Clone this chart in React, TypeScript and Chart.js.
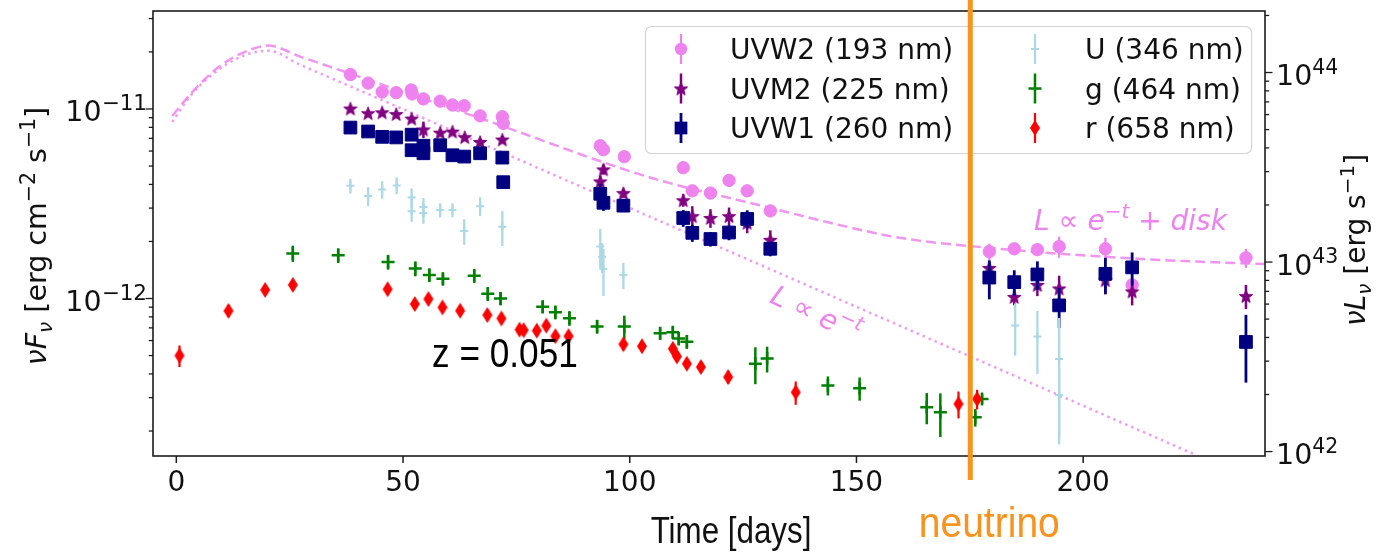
import { useEffect, useRef } from 'react';
import { Chart, registerables } from 'chart.js';

Chart.register(...registerables);

// ---------------- data (days since start, nu F_nu in erg cm^-2 s^-1) ----------------
const uvw2Days = [38.4, 42.3, 45.4, 48.5, 51.8, 52.0, 54.5, 58.2, 60.9, 63.5, 67.0, 71.9, 72.1, 93.5, 94.2, 98.8, 111.8, 113.8, 117.8, 121.9, 125.9, 131.0, 179.3, 184.8, 189.9, 194.7, 204.9, 210.8, 235.9];
const uvw2Flux = [1.52e-11, 1.37e-11, 1.23e-11, 1.22e-11, 1.26e-11, 1.20e-11, 1.13e-11, 1.10e-11, 1.05e-11, 1.04e-11, 9.2e-12, 9.1e-12, 8.4e-12, 6.4e-12, 6.1e-12, 5.6e-12, 4.9e-12, 3.7e-12, 3.6e-12, 4.2e-12, 3.7e-12, 2.9e-12, 1.77e-12, 1.83e-12, 1.81e-12, 1.88e-12, 1.83e-12, 1.18e-12, 1.64e-12];
const uvw2Err = [3e-13, 3e-13, 2.5e-13, 2.5e-13, 2.5e-13, 2.5e-13, 2.3e-13, 2.2e-13, 2.1e-13, 2.1e-13, 2e-13, 2e-13, 2.5e-13, 3e-13, 3e-13, 2.5e-13, 2.5e-13, 2e-13, 2e-13, 2.5e-13, 2e-13, 2e-13, 1.8e-13, 1.2e-13, 1.1e-13, 2.4e-13, 2.6e-13, 1.0e-13, 1.9e-13];

const uvm2Days = [38.4, 42.3, 45.4, 48.5, 51.9, 54.5, 58.2, 60.9, 63.6, 67.0, 71.9, 93.5, 94.2, 98.6, 111.8, 113.8, 117.8, 121.9, 125.9, 131.0, 179.3, 184.8, 189.9, 194.7, 204.9, 210.8, 235.9];
const uvm2Flux = [1.006e-11, 9.5e-12, 9.6e-12, 9.4e-12, 8.9e-12, 7.8e-12, 7.5e-12, 7.6e-12, 7.1e-12, 6.7e-12, 6.9e-12, 4.15e-12, 4.8e-12, 3.6e-12, 3.3e-12, 2.72e-12, 2.66e-12, 2.72e-12, 2.51e-12, 2.04e-12, 1.45e-12, 1.02e-12, 1.18e-12, 1.13e-12, 1.25e-12, 1.09e-12, 1.03e-12];
const uvm2Err = [3e-13, 3e-13, 3e-13, 3e-13, 3e-13, 7.8e-13, 2.5e-13, 2.5e-13, 2.5e-13, 2.5e-13, 3e-13, 3e-13, 3e-13, 2e-13, 2.5e-13, 3.5e-13, 3e-13, 3e-13, 3e-13, 2.5e-13, 1.1e-13, 1.0e-13, 1.5e-13, 1.9e-13, 2.0e-13, 1.7e-13, 1.5e-13];

const uvw1Days = [38.4, 42.3, 45.4, 48.5, 51.9, 51.9, 54.5, 54.5, 58.2, 60.9, 63.5, 67.0, 71.9, 72.1, 93.5, 94.2, 98.6, 111.8, 113.8, 117.8, 121.9, 125.9, 131.0, 179.3, 184.8, 189.9, 194.7, 204.9, 210.8, 235.9];
const uvw1Flux = [7.98e-12, 7.61e-12, 7.13e-12, 7.08e-12, 7.32e-12, 6.06e-12, 6.40e-12, 5.84e-12, 6.44e-12, 5.70e-12, 5.61e-12, 5.84e-12, 5.54e-12, 4.11e-12, 3.57e-12, 3.20e-12, 3.09e-12, 2.66e-12, 2.22e-12, 2.06e-12, 2.23e-12, 2.63e-12, 1.83e-12, 1.29e-12, 1.22e-12, 1.34e-12, 9.2e-13, 1.35e-12, 1.46e-12, 5.9e-13];
const uvw1Err = [2.2e-13, 2.2e-13, 2e-13, 2e-13, 2e-13, 2e-13, 2e-13, 3e-13, 2e-13, 2e-13, 1.8e-13, 1.8e-13, 1.8e-13, 2e-13, 4.6e-13, 3e-13, 2.3e-13, 2.7e-13, 2.3e-13, 1.8e-13, 2e-13, 2.9e-13, 1.6e-13, 3.0e-13, 1.9e-13, 2.3e-13, 2.2e-13, 2.9e-13, 2.9e-13, 2.3e-13];

const uDays = [38.4, 42.3, 45.4, 48.6, 51.9, 51.9, 54.5, 54.5, 58.2, 60.9, 63.5, 67.0, 71.9, 93.5, 93.9, 94.2, 98.6, 185.0, 189.9, 194.7, 194.7];
const uFlux = [3.93e-12, 3.47e-12, 3.76e-12, 3.95e-12, 3.41e-12, 2.89e-12, 3.04e-12, 2.83e-12, 2.93e-12, 2.93e-12, 2.27e-12, 3.07e-12, 2.39e-12, 1.88e-12, 1.66e-12, 1.43e-12, 1.33e-12, 7.2e-13, 6.3e-13, 4.8e-13, 3.1e-13];
const uErr = [3.5e-13, 4e-13, 4e-13, 4e-13, 4e-13, 3.5e-13, 3.5e-13, 3.5e-13, 2.5e-13, 2.5e-13, 3.5e-13, 3.5e-13, 5e-13, 4.5e-13, 3e-13, 4e-13, 2.1e-13, 2.2e-13, 2.3e-13, 3.1e-13, 1.2e-13];

const gDays = [25.7, 35.7, 46.7, 52.7, 55.8, 58.8, 65.7, 68.7, 71.5, 80.8, 83.6, 86.7, 92.8, 98.8, 106.7, 109.5, 110.8, 112.6, 127.7, 130.3, 143.7, 150.7, 165.5, 168.5, 176.2, 177.7];
const gFlux = [1.73e-12, 1.69e-12, 1.56e-12, 1.44e-12, 1.33e-12, 1.27e-12, 1.32e-12, 1.06e-12, 1.0e-12, 9.05e-13, 8.46e-13, 7.88e-13, 7.12e-13, 7.12e-13, 6.56e-13, 6.63e-13, 6.15e-13, 5.92e-13, 4.53e-13, 4.82e-13, 3.48e-13, 3.36e-13, 2.67e-13, 2.51e-13, 2.36e-13, 2.95e-13];
const gErr = [1.7e-13, 1.5e-13, 1.4e-13, 1.3e-13, 1.1e-13, 1.0e-13, 1.1e-13, 9e-14, 8e-14, 7e-14, 7e-14, 7e-14, 6e-14, 1.0e-13, 5e-14, 5e-14, 5e-14, 5e-14, 1.0e-13, 7.5e-14, 4e-14, 4.7e-14, 5e-14, 6.5e-14, 2.5e-14, 1.8e-14];

const rDays = [0.7, 11.5, 19.6, 25.7, 46.6, 52.6, 55.6, 58.7, 62.6, 68.6, 71.7, 75.7, 76.6, 79.5, 81.6, 83.6, 86.5, 98.6, 102.7, 109.5, 110.4, 112.6, 115.7, 121.7, 136.6, 172.5, 176.6];
const rFlux = [5.0e-13, 8.6e-13, 1.11e-12, 1.18e-12, 1.12e-12, 9.35e-13, 9.94e-13, 8.98e-13, 8.62e-13, 8.18e-13, 7.85e-13, 6.85e-13, 6.81e-13, 6.77e-13, 7.19e-13, 6.33e-13, 6.33e-13, 5.74e-13, 5.6e-13, 5.43e-13, 4.95e-13, 4.53e-13, 4.35e-13, 3.85e-13, 3.2e-13, 2.78e-13, 2.95e-13];
const rErr = [6.5e-14, 6e-14, 7e-14, 7e-14, 7e-14, 5e-14, 5e-14, 5e-14, 5e-14, 5e-14, 4.5e-14, 4e-14, 4e-14, 4e-14, 4e-14, 4e-14, 4e-14, 4e-14, 4e-14, 3e-14, 3e-14, 3e-14, 3e-14, 3e-14, 4.5e-14, 4.5e-14, 3.5e-14];

// model curves
const expDiskDays = [-0.9, 3.75, 9.7, 15.7, 20.3, 27.3, 38.4, 68.1, 104.5, 128.8, 148.6, 159.6, 179.3, 201.5, 221.4, 240.1];
const expDiskFlux = [9.18e-12, 1.247e-11, 1.69e-11, 2.03e-11, 2.16e-11, 1.89e-11, 1.535e-11, 8.75e-12, 4.35e-12, 3.10e-12, 2.37e-12, 2.09e-12, 1.85e-12, 1.68e-12, 1.58e-12, 1.52e-12];
const expDays = [-0.9, 3.1, 9.0, 14.8, 20.3, 27.3, 38.4, 82.5, 148.6, 224.3];
const expFlux = [8.53e-12, 1.172e-11, 1.59e-11, 1.91e-11, 2.03e-11, 1.712e-11, 1.316e-11, 4.575e-12, 9.35e-13, 1.515e-13];

const seriesLabels = ['UVW2 (193 nm)', 'UVM2 (225 nm)', 'UVW1 (260 nm)', 'U (346 nm)', 'g (464 nm)', 'r (658 nm)'];

const xTicks = [0, 50, 100, 150, 200];
const xTickLabels = ['0', '50', '100', '150', '200'];
const fluxMajorTicks = [1e-12, 1e-11];
const fluxTickExps = ['\u221212', '\u221211'];
const lumMajorTicks = [1e42, 1e43, 1e44];
const lumTickExps = ['42', '43', '44'];

const xMin = -5.14;
const xMax = 240.1;
const fluxMin = 1.476e-13;
const fluxMax = 3.289e-11;
const lumPerFlux = 6.42e54;
const neutrinoDay = 175.1;

// ---------------- helpers ----------------
const FONT = '"DejaVu Sans", sans-serif';
const ORANGE = '#F7931E';

function makeStar(color: string, R: number) {
  const c = document.createElement('canvas');
  const s = Math.ceil(R * 2 + 4);
  c.width = s; c.height = s;
  const ctx = c.getContext('2d')!;
  ctx.translate(s / 2, s / 2 + R * 0.1);
  ctx.beginPath();
  for (let i = 0; i < 10; i++) {
    const r = i % 2 === 0 ? R : R * 0.42;
    const a = -Math.PI / 2 + (i * Math.PI) / 5;
    const px = r * Math.cos(a), py = r * Math.sin(a);
    if (i === 0) ctx.moveTo(px, py); else ctx.lineTo(px, py);
  }
  ctx.closePath();
  ctx.fillStyle = color; ctx.strokeStyle = color; ctx.lineWidth = 1;
  ctx.fill(); ctx.stroke();
  return c;
}

function makeThinDiamond(color: string, h: number, w: number) {
  const c = document.createElement('canvas');
  c.width = Math.ceil(w + 2); c.height = Math.ceil(h + 2);
  const ctx = c.getContext('2d')!;
  const cx = c.width / 2, cy = c.height / 2;
  ctx.beginPath();
  ctx.moveTo(cx, cy - h / 2); ctx.lineTo(cx + w / 2, cy); ctx.lineTo(cx, cy + h / 2); ctx.lineTo(cx - w / 2, cy);
  ctx.closePath();
  ctx.fillStyle = color; ctx.fill();
  return c;
}

type Run = { t: string; size: number; italic?: boolean; dy?: number };

function setRunFont(ctx: CanvasRenderingContext2D, r: Run) {
  ctx.font = `${r.italic ? 'italic ' : ''}${r.size}px ${FONT}`;
}
function runsWidth(ctx: CanvasRenderingContext2D, runs: Run[]) {
  let w = 0;
  for (const r of runs) { setRunFont(ctx, r); w += ctx.measureText(r.t).width; }
  return w;
}
function drawRuns(ctx: CanvasRenderingContext2D, runs: Run[], x: number, y: number) {
  let cx = x;
  ctx.textAlign = 'left';
  ctx.textBaseline = 'alphabetic';
  for (const r of runs) {
    setRunFont(ctx, r);
    ctx.fillText(r.t, cx, y + (r.dy || 0));
    cx += ctx.measureText(r.t).width;
  }
}

function drawPow(ctx: CanvasRenderingContext2D, exp: string, x: number, baseline: number, align: 'left' | 'right', supSize: number) {
  const runs: Run[] = [{ t: '10', size: 28.5 }, { t: exp, size: supSize, dy: -11.5 }];
  const w = runsWidth(ctx, runs);
  drawRuns(ctx, runs, align === 'right' ? x - w : x, baseline);
}

function isPow10(v: number) {
  const l = Math.log10(v);
  return Math.abs(l - Math.round(l)) < 1e-6;
}
function isMinor(v: number) {
  const e = Math.floor(Math.log10(v) + 1e-9);
  const m = v / Math.pow(10, e);
  const rm = Math.round(m);
  return Math.abs(m - rm) < 1e-6 && rm >= 2 && rm <= 9;
}

// ---------------- component ----------------
export default function App() {
  const canvasRef = useRef<HTMLCanvasElement | null>(null);

  useEffect(() => {
    const canvas = canvasRef.current;
    if (!canvas) return;

    const star = makeStar('purple', 7);
    const diamond = makeThinDiamond('red', 16, 10);

    const series = [
      { label: seriesLabels[0], days: uvw2Days, flux: uvw2Flux, err: uvw2Err, color: 'violet', style: 'circle', radius: 6.2, bw: 1, errWidth: 2.2, order: 6 },
      { label: seriesLabels[1], days: uvm2Days, flux: uvm2Flux, err: uvm2Err, color: 'purple', style: star, radius: 7, bw: 1, errWidth: 2.5, order: 5 },
      { label: seriesLabels[2], days: uvw1Days, flux: uvw1Flux, err: uvw1Err, color: 'navy', style: 'rect', radius: 9, bw: 1, errWidth: 2.8, order: 4 },
      { label: seriesLabels[3], days: uDays, flux: uFlux, err: uErr, color: 'lightblue', style: 'cross', radius: 4, bw: 2, errWidth: 2.3, order: 3 },
      { label: seriesLabels[4], days: gDays, flux: gFlux, err: gErr, color: 'green', style: 'cross', radius: 6.5, bw: 2.5, errWidth: 2.5, order: 2 },
      { label: seriesLabels[5], days: rDays, flux: rFlux, err: rErr, color: 'red', style: diamond, radius: 8, bw: 1, errWidth: 2.2, order: 1 },
    ];

    const pts = (xs: number[], ys: number[]) => xs.map((x, i) => ({ x, y: ys[i] }));

    const datasets: any[] = [
      {
        type: 'line', label: 'exp+disk', data: pts(expDiskDays, expDiskFlux),
        borderColor: 'rgba(238,130,238,0.85)', borderWidth: 2.5, borderDash: [10, 5],
        pointRadius: 0, showLine: true, fill: false, cubicInterpolationMode: 'monotone', order: 10,
        xAxisID: 'x', yAxisID: 'y',
      },
      {
        type: 'line', label: 'exp', data: pts(expDays, expFlux),
        borderColor: 'rgba(238,130,238,0.8)', borderWidth: 2.5, borderDash: [2.5, 4],
        pointRadius: 0, showLine: true, fill: false, cubicInterpolationMode: 'monotone', order: 11,
        xAxisID: 'x', yAxisID: 'y',
      },
      ...series.map((s) => ({
        type: 'scatter', label: s.label, data: pts(s.days, s.flux),
        pointStyle: s.style, pointRadius: s.radius, pointHoverRadius: s.radius,
        backgroundColor: s.color, borderColor: s.color, borderWidth: s.bw,
        showLine: false, order: s.order, errors: s.err, errWidth: s.errWidth,
        xAxisID: 'x', yAxisID: 'y',
      })),
    ];

    const decor = {
      id: 'decor',
      beforeDatasetDraw(chart: any, args: any) {
        const ds = chart.data.datasets[args.index];
        if (!ds.errors) return;
        const { ctx, chartArea: a } = chart;
        const xs = chart.scales.x, ys = chart.scales.y;
        ctx.save();
        ctx.beginPath();
        ctx.rect(a.left, a.top, a.right - a.left, a.bottom - a.top);
        ctx.clip();
        ctx.strokeStyle = ds.borderColor;
        ctx.lineWidth = ds.errWidth;
        ds.data.forEach((p: any, i: number) => {
          const e = ds.errors[i];
          const px = xs.getPixelForValue(p.x);
          const top = ys.getPixelForValue(p.y + e);
          const lo = p.y - e;
          const bot = lo > 0 ? Math.min(ys.getPixelForValue(lo), a.bottom + 5) : a.bottom + 5;
          ctx.beginPath();
          ctx.moveTo(px, top);
          ctx.lineTo(px, bot);
          ctx.stroke();
        });
        ctx.restore();
      },
      afterDraw(chart: any) {
        const { ctx, chartArea: a } = chart;
        const xs = chart.scales.x, ys = chart.scales.y, y2 = chart.scales.y2;
        ctx.save();

        // frame
        ctx.strokeStyle = '#1c1c1c';
        ctx.lineWidth = 1.6;
        ctx.strokeRect(a.left, a.top, a.right - a.left, a.bottom - a.top);

        // x ticks + labels
        ctx.lineWidth = 1.5;
        ctx.fillStyle = '#111';
        xTicks.forEach((v, i) => {
          const px = xs.getPixelForValue(v);
          ctx.beginPath(); ctx.moveTo(px, a.bottom); ctx.lineTo(px, a.bottom + 7); ctx.stroke();
          ctx.font = `28px ${FONT}`;
          ctx.textAlign = 'center';
          ctx.textBaseline = 'alphabetic';
          ctx.fillText(xTickLabels[i], px, 491);
        });

        // y ticks (from the library's log scales)
        const drawYTicks = (scale: any, edge: number, dir: number) => {
          scale.ticks.forEach((t: any) => {
            const v = t.value;
            let len = 0;
            if (isPow10(v)) len = 7.5; else if (isMinor(v)) len = 4.2;
            if (!len) return;
            const py = scale.getPixelForValue(v);
            if (py < a.top - 0.5 || py > a.bottom + 0.5) return;
            ctx.beginPath(); ctx.moveTo(edge, py); ctx.lineTo(edge + dir * len, py); ctx.stroke();
          });
        };
        ctx.lineWidth = 1.3;
        drawYTicks(ys, a.left, -1);
        drawYTicks(y2, a.right, 1);

        ctx.fillStyle = '#111';
        fluxMajorTicks.forEach((v, i) => {
          const py = ys.getPixelForValue(v);
          drawPow(ctx, fluxTickExps[i], 147, py + 12.5, 'right', 21.5);
        });
        lumMajorTicks.forEach((v, i) => {
          const py = y2.getPixelForValue(v);
          drawPow(ctx, lumTickExps[i], 1276, py + 12.5, 'left', 20.5);
        });

        // axis titles
        const leftTitle: Run[] = [
          { t: '\u03bd', size: 28.5, italic: true }, { t: 'F', size: 28.5, italic: true }, { t: '\u03bd', size: 20, italic: true, dy: 6 },
          { t: ' [erg cm', size: 28.5 }, { t: '\u22122', size: 20.5, dy: -11.5 }, { t: ' s', size: 28.5 }, { t: '\u22121', size: 20.5, dy: -11.5 }, { t: ']', size: 28.5 },
        ];
        const rightTitle: Run[] = [
          { t: '\u03bd', size: 28, italic: true }, { t: 'L', size: 28, italic: true }, { t: '\u03bd', size: 20, italic: true, dy: 6 },
          { t: ' [erg s', size: 28 }, { t: '\u22121', size: 20, dy: -11.5 }, { t: ']', size: 28 },
        ];
        const drawVertical = (runs: Run[], bx: number, cy: number) => {
          const w = runsWidth(ctx, runs);
          ctx.save();
          ctx.translate(bx, cy);
          ctx.rotate(-Math.PI / 2);
          drawRuns(ctx, runs, -w / 2, 0);
          ctx.restore();
        };
        drawVertical(leftTitle, 46, 236);
        drawVertical(rightTitle, 1365, 240);

        // x title
        ctx.save();
        ctx.font = '36px "Liberation Sans", Arial, sans-serif';
        ctx.textAlign = 'center';
        ctx.textBaseline = 'alphabetic';
        ctx.translate(731, 543);
        ctx.scale(0.87, 1);
        ctx.fillText('Time [days]', 0, 0);
        ctx.restore();

        // model annotations
        ctx.fillStyle = 'violet';
        const diskRuns: Run[] = [
          { t: 'L', size: 28, italic: true }, { t: ' \u221d ', size: 28 }, { t: 'e', size: 28, italic: true },
          { t: '\u2212t', size: 20, italic: true, dy: -12 }, { t: ' + ', size: 28 }, { t: 'disk', size: 28, italic: true },
        ];
        drawRuns(ctx, diskRuns, 1034, 230);
        const expRuns: Run[] = [
          { t: 'L', size: 28, italic: true }, { t: ' \u221d ', size: 28 }, { t: 'e', size: 28, italic: true },
          { t: '\u2212t', size: 20, italic: true, dy: -12 },
        ];
        {
          const w = runsWidth(ctx, expRuns);
          ctx.save();
          ctx.translate(816, 313);
          ctx.rotate((25 * Math.PI) / 180);
          drawRuns(ctx, expRuns, -w / 2, 10);
          ctx.restore();
        }

        // z label
        ctx.save();
        ctx.fillStyle = '#000';
        ctx.font = '40px "Liberation Sans", Arial, sans-serif';
        ctx.textAlign = 'left';
        ctx.textBaseline = 'alphabetic';
        ctx.translate(432, 367);
        ctx.scale(0.88, 1);
        ctx.fillText('z = 0.051', 0, 0);
        ctx.restore();

        // legend
        const lx = 645.5, ly = 26.5, lw = 606, lh = 127;
        ctx.beginPath();
        (ctx as any).roundRect(lx, ly, lw, lh, 6);
        ctx.fillStyle = 'rgba(255,255,255,0.85)';
        ctx.fill();
        ctx.strokeStyle = '#d4d4d4';
        ctx.lineWidth = 1.2;
        ctx.stroke();
        const colMarker = [681, 1035];
        const colText = [730, 1085];
        const rowY = [49, 88.5, 128];
        series.forEach((s, k) => {
          const col = k < 3 ? 0 : 1;
          const row = k % 3;
          const mx = colMarker[col], cy = rowY[row];
          ctx.strokeStyle = s.color;
          ctx.lineWidth = s.errWidth;
          ctx.beginPath(); ctx.moveTo(mx, cy - 15); ctx.lineTo(mx, cy + 15); ctx.stroke();
          ctx.fillStyle = s.color;
          if (s.style === 'circle') {
            ctx.beginPath(); ctx.arc(mx, cy, 6.2, 0, Math.PI * 2); ctx.fill();
          } else if (s.style === 'rect') {
            const h = s.radius * Math.SQRT1_2;
            ctx.fillRect(mx - h, cy - h, 2 * h, 2 * h);
          } else if (s.style === 'cross') {
            ctx.lineWidth = s.bw;
            ctx.beginPath(); ctx.moveTo(mx - s.radius, cy); ctx.lineTo(mx + s.radius, cy); ctx.stroke();
          } else {
            const im = s.style as HTMLCanvasElement;
            ctx.drawImage(im, mx - im.width / 2, cy - im.height / 2);
          }
          ctx.fillStyle = '#111';
          ctx.font = `28px ${FONT}`;
          ctx.textAlign = 'left';
          ctx.textBaseline = 'alphabetic';
          ctx.fillText(s.label, colText[col], cy + 10);
        });

        // neutrino marker
        const nx = xs.getPixelForValue(neutrinoDay);
        ctx.strokeStyle = ORANGE;
        ctx.lineWidth = 5;
        ctx.beginPath(); ctx.moveTo(nx, 0); ctx.lineTo(nx, 480); ctx.stroke();
        ctx.save();
        ctx.fillStyle = ORANGE;
        ctx.font = '42px "Liberation Sans", Arial, sans-serif';
        ctx.textAlign = 'center';
        ctx.textBaseline = 'alphabetic';
        ctx.translate(nx + 19, 537);
        ctx.scale(0.93, 1);
        ctx.fillText('neutrino', 0, 0);
        ctx.restore();

        ctx.restore();
      },
    };

    const chart = new Chart(canvas, {
      type: 'scatter',
      data: { datasets },
      options: {
        responsive: false,
        animation: false,
        devicePixelRatio: 1,
        layout: { padding: { top: 11, left: 0, right: 0, bottom: 0 } },
        plugins: { legend: { display: false }, tooltip: { enabled: false } },
        events: [],
        scales: {
          x: {
            type: 'linear', position: 'bottom', min: xMin, max: xMax,
            grid: { display: false, drawTicks: false }, border: { display: false },
            ticks: { display: false },
            afterBuildTicks: (s: any) => { s.ticks = xTicks.map((v) => ({ value: v })); },
            afterFit: (s: any) => { s.height = 97; },
          },
          y: {
            type: 'logarithmic', position: 'left', min: fluxMin, max: fluxMax,
            grid: { display: false, drawTicks: false }, border: { display: false },
            ticks: { display: false, autoSkip: false },
            afterFit: (s: any) => { s.width = 153; },
          },
          y2: {
            type: 'logarithmic', position: 'right', display: true,
            min: fluxMin * lumPerFlux, max: fluxMax * lumPerFlux,
            grid: { display: false, drawTicks: false }, border: { display: false },
            ticks: { display: false, autoSkip: false },
            afterFit: (s: any) => { s.width = 122; },
          },
        },
      } as any,
      plugins: [decor],
    });

    return () => chart.destroy();
  }, []);

  return (
    <div style={{ position: 'fixed', left: 0, top: 0, width: 1387, height: 553, background: '#fff' }}>
      <canvas ref={canvasRef} width={1387} height={553} style={{ display: 'block', width: 1387, height: 553 }} />
    </div>
  );
}
